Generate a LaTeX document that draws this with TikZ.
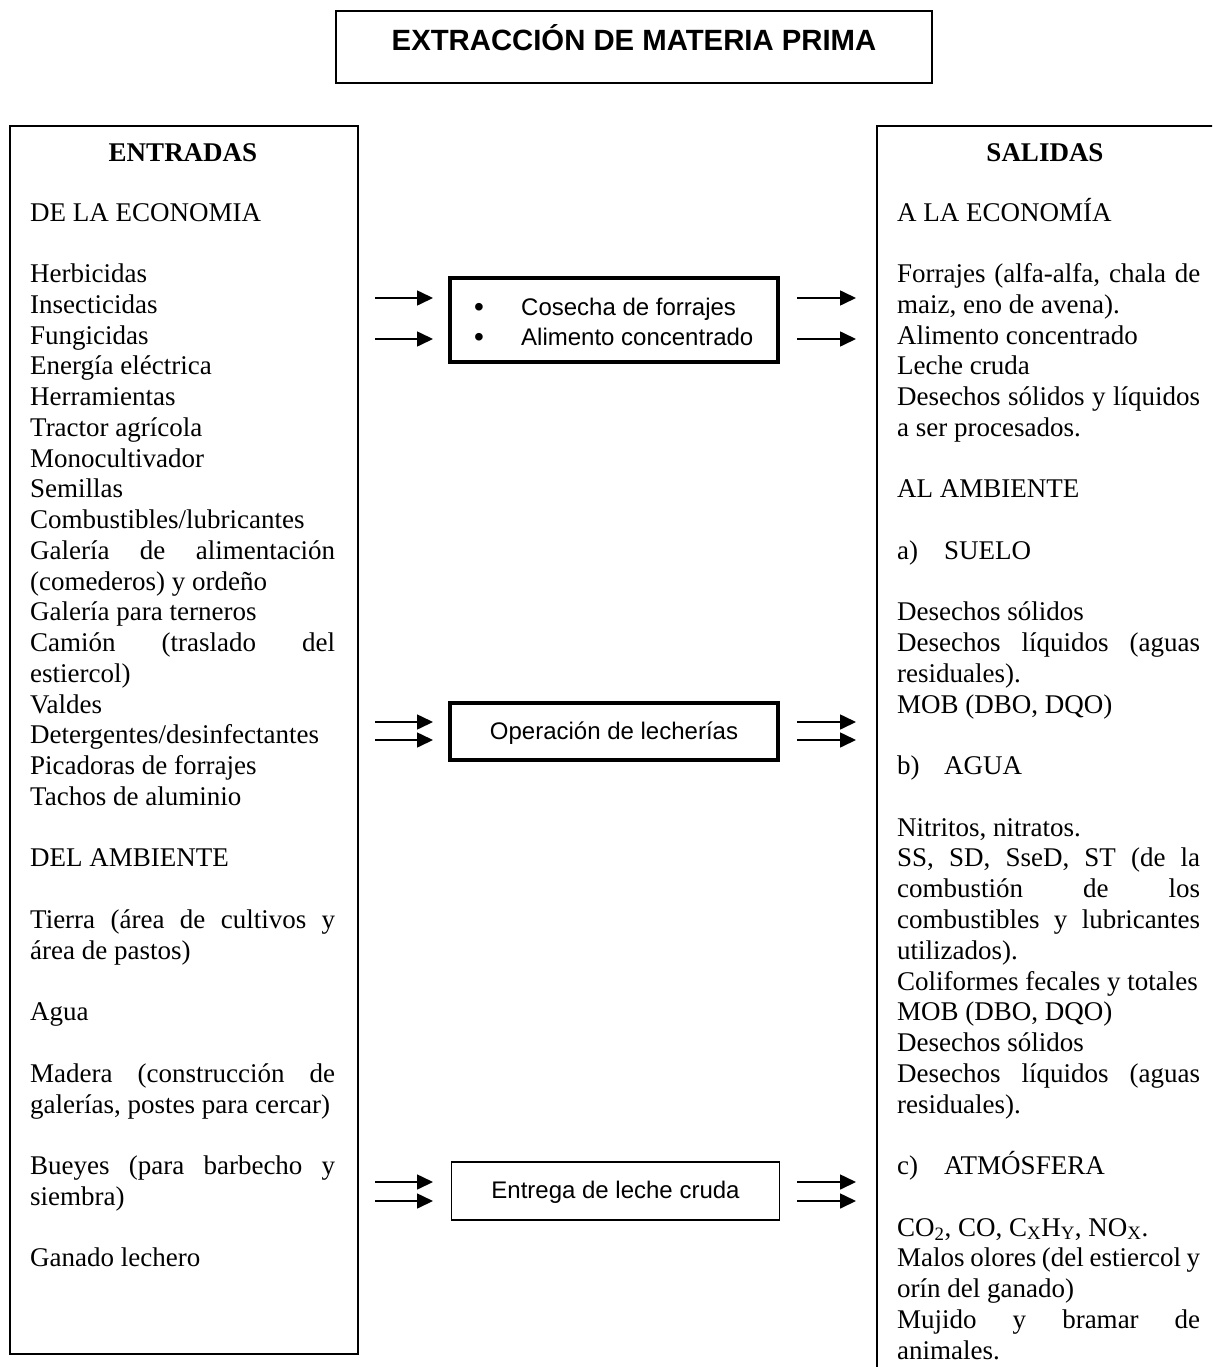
\documentclass[tikz,border=0pt]{standalone}
\usepackage{fontspec}
\setmainfont{Liberation Serif}
\newfontfamily\arialfont{Liberation Sans}
\usetikzlibrary{arrows.meta}

% one justified line of a column
\newcommand\jline[1]{\makebox[\hsize][s]{#1}\par}
% one empty line of a column
\newcommand\gapline{\mbox{}\par}
% settings of the two text columns
\newcommand\colsetup{\fontsize{27}{30.76}\selectfont\parindent=0pt\parskip=0pt
  \lineskiplimit=-100pt\parfillskip=0pt plus 1fil\relax}

\tikzset{
  frame/.style={draw, line width=1.8pt, inner sep=0pt, rectangle},
  procbox/.style={draw, line width=3.2pt, inner sep=0pt, minimum width=328pt},
  thinbox/.style={draw, line width=1.6pt, inner sep=0pt, minimum width=328pt},
  proctext/.style={font=\arialfont\fontsize{24}{29}\selectfont, inner sep=0pt},
  head/.style={font=\bfseries\fontsize{27}{31}\selectfont, inner sep=0pt, anchor=base},
  col/.style={inner sep=0pt, anchor=base west},
  arr/.style={line width=1.6pt, -{Triangle[length=16pt, width=15pt]}}
}

\begin{document}
\begin{tikzpicture}[x=1pt, y=-1pt]
\path[use as bounding box] (0,0) rectangle (1212,1367);
\clip (0,0) rectangle (1212,1367);

% title
\node[frame, minimum width=596pt, minimum height=72pt] (titlebox) at (634,47) {};
\node[font=\arialfont\bfseries\fontsize{29.3}{34}\selectfont, inner sep=0pt, anchor=base]
  (titletext) at (634,51) {EXTRACCIÓN DE MATERIA PRIMA};

% inputs column
\node[frame, minimum width=348pt, minimum height=1228pt, anchor=north west] (inbox) at (9,125) {};
\node[head] (inhead) at (183,162) {ENTRADAS};
\node[col] (inlist) at (30,221) {\vtop{\hsize=305pt \colsetup
DE LA ECONOMIA\par
\gapline
Herbicidas\par
Insecticidas\par
Fungicidas\par
Energía eléctrica\par
Herramientas\par
Tractor agrícola\par
Monocultivador\par
Semillas\par
Combustibles/lubricantes\par
\jline{Galería de alimentación}
(comederos) y ordeño\par
Galería para terneros\par
\jline{Camión (traslado del}
estiercol)\par
Valdes\par
Detergentes/desinfectantes\par
Picadoras de forrajes\par
Tachos de aluminio\par
\gapline
DEL AMBIENTE\par
\gapline
\jline{Tierra (área de cultivos y}
área de pastos)\par
\gapline
Agua\par
\gapline
\jline{Madera (construcción de}
galerías, postes para cercar)\par
\gapline
\jline{Bueyes (para barbecho y}
siembra)\par
\gapline
Ganado lechero\par}};

% outputs column
\node[frame, minimum width=348pt, minimum height=1300pt, anchor=north west] (outbox) at (876,125) {};
\node[head] (outhead) at (1045,162) {SALIDAS};
\node[col] (outlist) at (897,221) {\vtop{\hsize=303pt \colsetup
A LA ECONOMÍA\par
\gapline
\jline{Forrajes (alfa-alfa, chala de}
maiz, eno de avena).\par
Alimento concentrado\par
Leche cruda\par
\jline{Desechos sólidos y líquidos}
a ser procesados.\par
\gapline
AL AMBIENTE\par
\gapline
\makebox[47pt][l]{a)}SUELO\par
\gapline
Desechos sólidos\par
\jline{Desechos líquidos (aguas}
residuales).\par
MOB (DBO, DQO)\par
\gapline
\makebox[47pt][l]{b)}AGUA\par
\gapline
Nitritos, nitratos.\par
\jline{SS, SD, SseD, ST (de la}
\jline{combustión de los}
\jline{combustibles y lubricantes}
utilizados).\par
Coliformes fecales y totales\par
MOB (DBO, DQO)\par
Desechos sólidos\par
\jline{Desechos líquidos (aguas}
residuales).\par
\gapline
\makebox[47pt][l]{c)}ATMÓSFERA\par
\gapline
CO\textsubscript{2}, CO, C\textsubscript{X}H\textsubscript{Y}, NO\textsubscript{X}.\par
\jline{Malos olores (del estiercol y}
orín del ganado)\par
\jline{Mujido y bramar de}
animales.\par}};

% process 1: harvest of forage and concentrate
\node[procbox, minimum height=84pt] (cosecha) at (614,320) {};
\node[proctext, anchor=base, font=\arialfont\fontsize{28}{29}\selectfont] (bul1) at (479,316) {•};
\node[proctext, anchor=base west] (cosecha1) at (521,315) {Cosecha de forrajes};
\node[proctext, anchor=base, font=\arialfont\fontsize{28}{29}\selectfont] (bul2) at (479,346) {•};
\node[proctext, anchor=base west] (cosecha2) at (521,345) {Alimento concentrado};

% process 2: dairy operation
\node[procbox, minimum height=57pt] (lecheria) at (614,731.5) {};
\node[proctext, anchor=base] (lecheriatext) at (614,739) {Operación de lecherías};

% process 3: delivery of raw milk
\node[thinbox, minimum height=58pt] (entrega) at (615.5,1191) {};
\node[proctext, anchor=base] (entregatext) at (615.5,1198) {Entrega de leche cruda};

% arrow end points
\coordinate (i1a) at (375,298);  \coordinate (i1b) at (433,298);
\coordinate (i2a) at (375,339);  \coordinate (i2b) at (433,339);
\coordinate (o1a) at (797,298);  \coordinate (o1b) at (856,298);
\coordinate (o2a) at (797,339);  \coordinate (o2b) at (856,339);
\coordinate (i3a) at (375,722);  \coordinate (i3b) at (433,722);
\coordinate (i4a) at (375,740);  \coordinate (i4b) at (433,740);
\coordinate (o3a) at (797,722);  \coordinate (o3b) at (856,722);
\coordinate (o4a) at (797,740);  \coordinate (o4b) at (856,740);
\coordinate (i5a) at (375,1182); \coordinate (i5b) at (433,1182);
\coordinate (i6a) at (375,1201); \coordinate (i6b) at (433,1201);
\coordinate (o5a) at (797,1182); \coordinate (o5b) at (856,1182);
\coordinate (o6a) at (797,1201); \coordinate (o6b) at (856,1201);

\foreach \p in {i1,i2,o1,o2,i3,i4,o3,o4,i5,i6,o5,o6}
  \draw[arr] (\p a) -- (\p b);
\end{tikzpicture}
\end{document}
